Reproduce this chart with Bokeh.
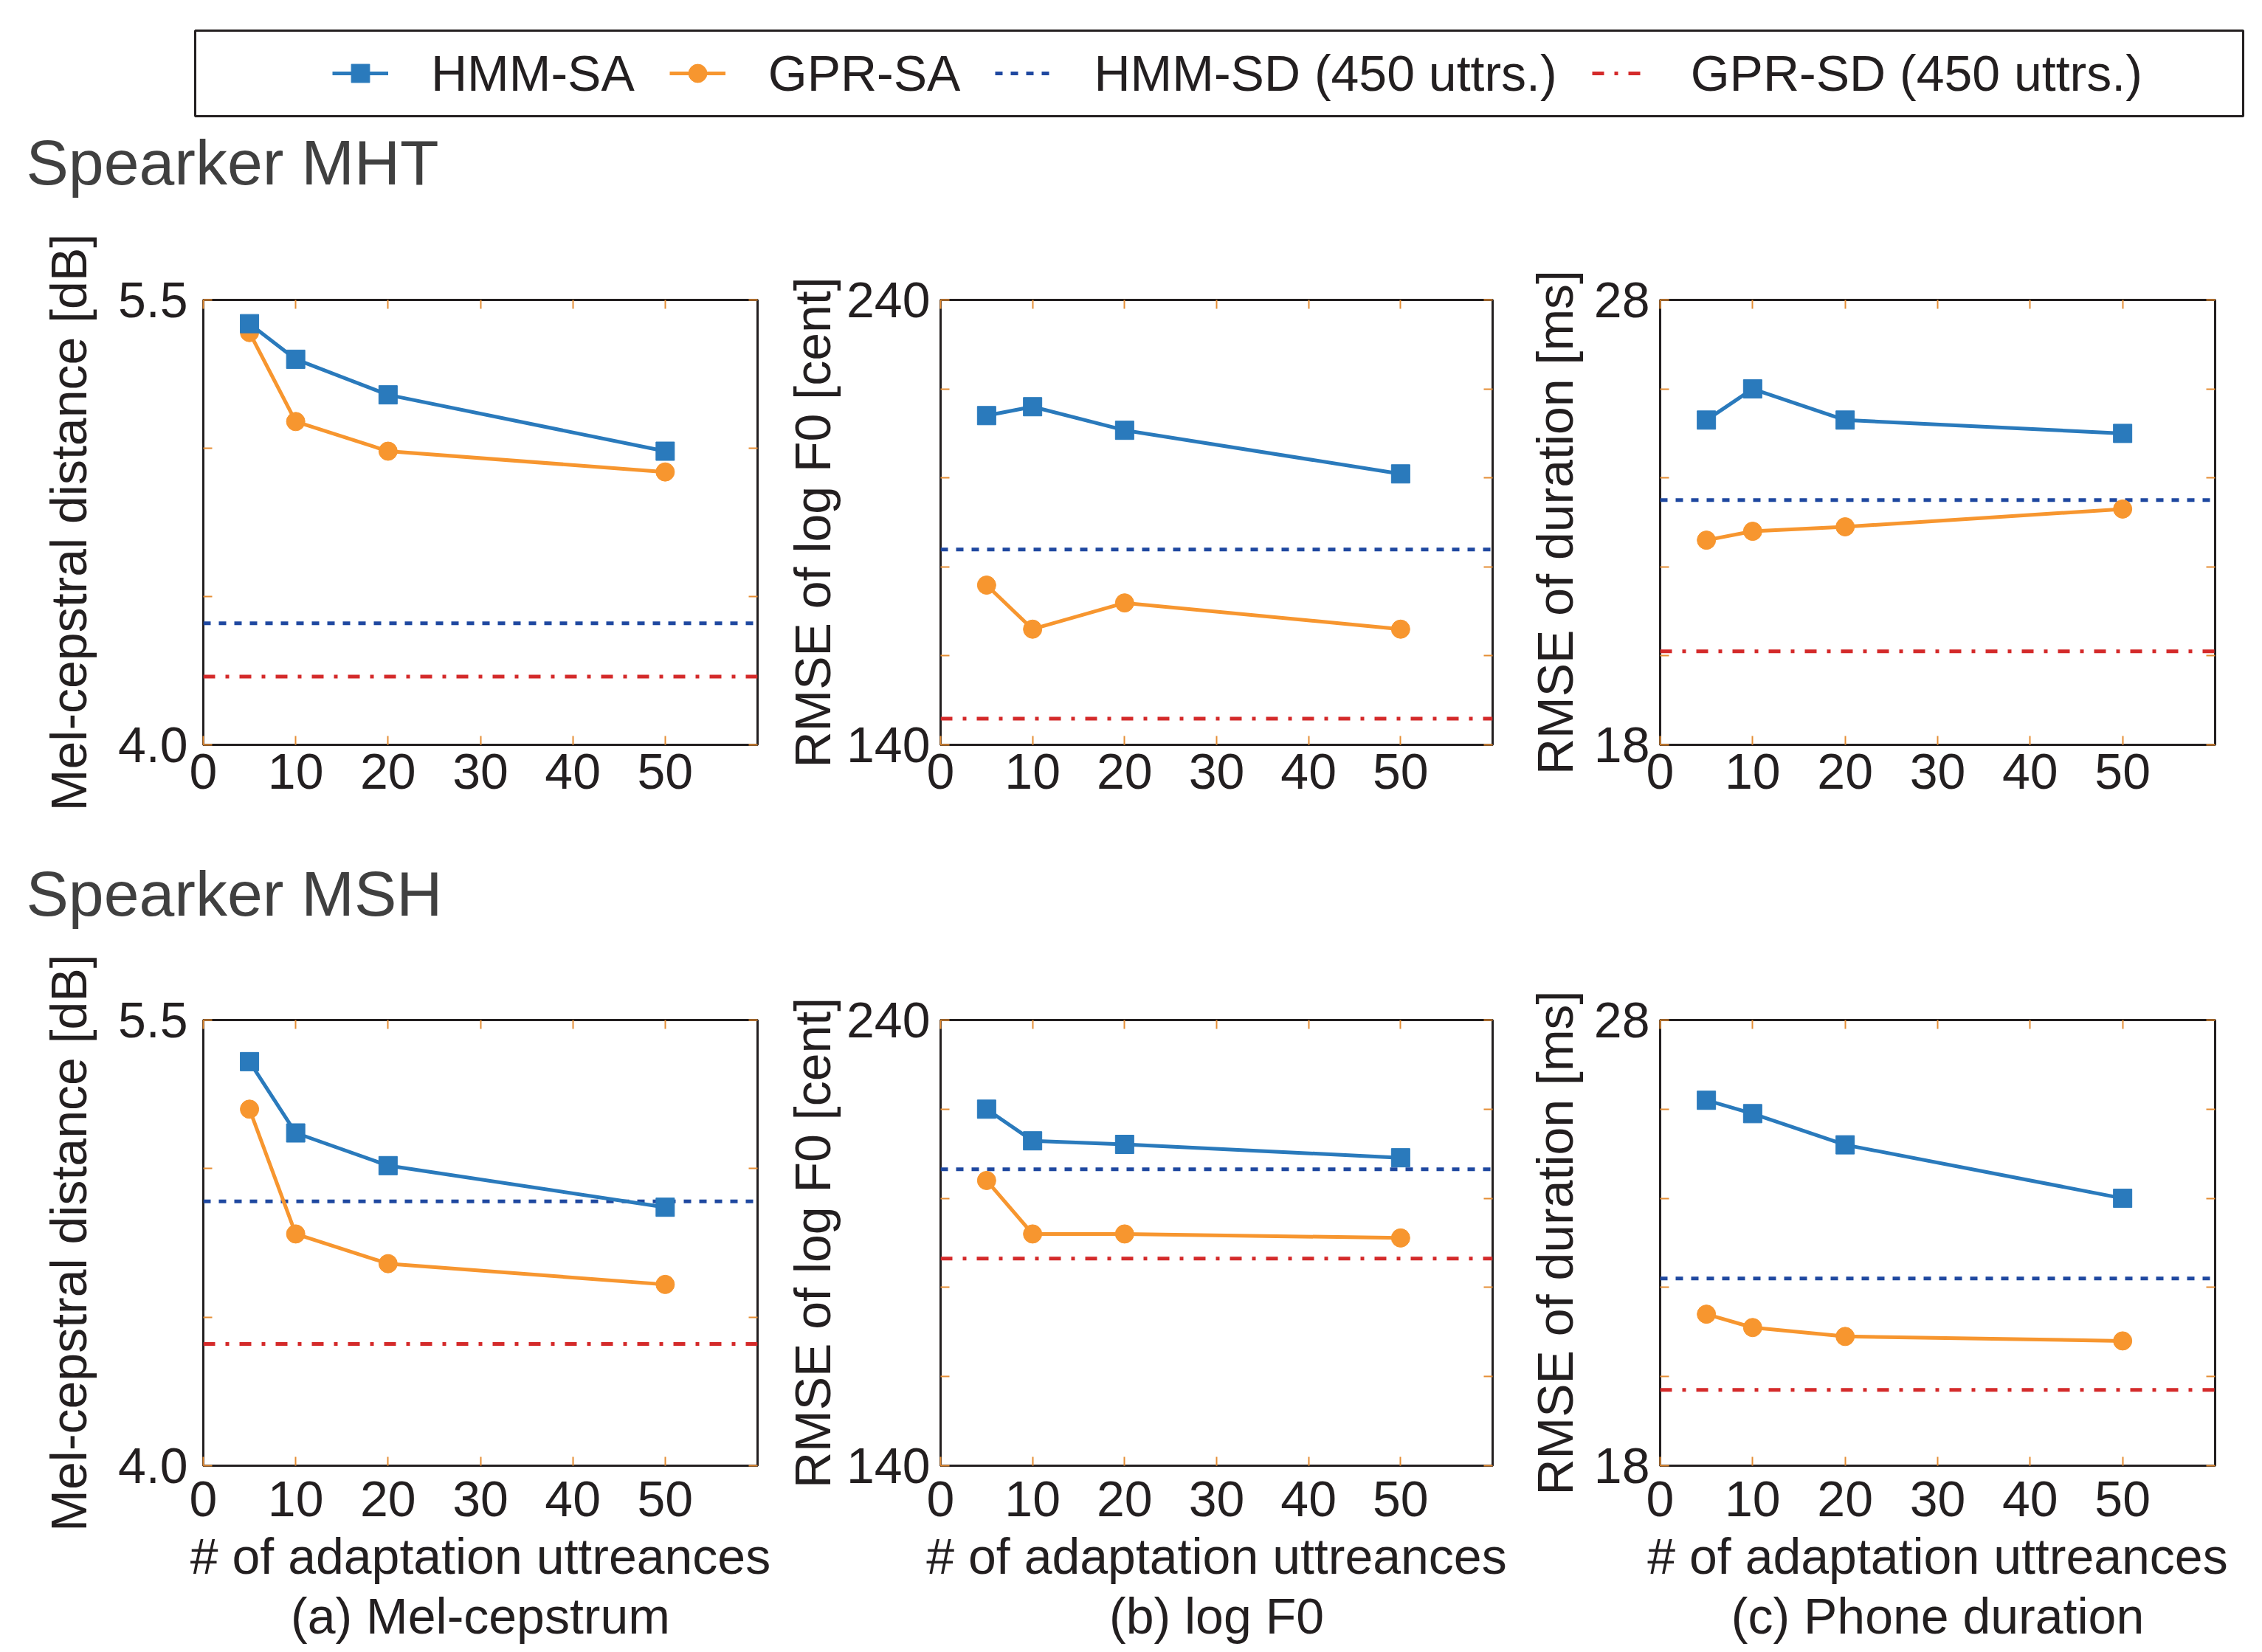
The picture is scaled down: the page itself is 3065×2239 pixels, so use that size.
from bokeh.plotting import figure
from bokeh.models import (Range1d, FixedTicker, LinearAxis, Span, Legend, LegendItem,
                          Title, PrintfTickFormatter)
from bokeh.layouts import column, row
from bokeh.embed import file_html
from bokeh.resources import INLINE

# ---------------- data ----------------
x_utts = [5, 10, 20, 50]
x_ticks = [0, 10, 20, 30, 40, 50]

series_names = ["HMM-SA", "GPR-SA", "HMM-SD (450 uttrs.)", "GPR-SD (450 uttrs.)"]
speakers = ["Spearker MHT", "Spearker MSH"]
panel_titles = ["(a) Mel-cepstrum", "(b) log F0", "(c) Phone duration"]
y_labels = ["Mel-cepstral distance [dB]", "RMSE of log F0 [cent]", "RMSE of duration [ms]"]
x_label = "# of adaptation uttreances"

# Speaker MHT
mht_mcep_hmm_sa = [5.42, 5.30, 5.18, 4.99]
mht_mcep_gpr_sa = [5.39, 5.09, 4.99, 4.92]
mht_mcep_hmm_sd = 4.41
mht_mcep_gpr_sd = 4.23

mht_lf0_hmm_sa = [214.0, 216.0, 210.7, 200.9]
mht_lf0_gpr_sa = [175.9, 166.0, 171.9, 166.0]
mht_lf0_hmm_sd = 183.9
mht_lf0_gpr_sd = 145.9

mht_dur_hmm_sa = [25.3, 26.0, 25.3, 25.0]
mht_dur_gpr_sa = [22.6, 22.8, 22.9, 23.3]
mht_dur_hmm_sd = 23.5
mht_dur_gpr_sd = 20.1

# Speaker MSH
msh_mcep_hmm_sa = [5.36, 5.12, 5.01, 4.87]
msh_mcep_gpr_sa = [5.20, 4.78, 4.68, 4.61]
msh_mcep_hmm_sd = 4.89
msh_mcep_gpr_sd = 4.41

msh_lf0_hmm_sa = [220.0, 212.9, 212.1, 209.1]
msh_lf0_gpr_sa = [204.0, 192.0, 192.0, 191.1]
msh_lf0_hmm_sd = 206.5
msh_lf0_gpr_sd = 186.5

msh_dur_hmm_sa = [26.2, 25.9, 25.2, 24.0]
msh_dur_gpr_sa = [21.4, 21.1, 20.9, 20.8]
msh_dur_hmm_sd = 22.2
msh_dur_gpr_sd = 19.7

# y axes: labelled ticks and unlabelled ticks
mcep_ticks = [4.0, 5.5]
mcep_minor = [4.5, 5.0]
lf0_ticks = [140, 240]
lf0_minor = [160, 180, 200, 220]
dur_ticks = [18, 28]
dur_minor = [20, 22, 24, 26]

# ---------------- style ----------------
FONT = "Liberation Sans"
TXT = "#231f20"
BLUE = "#2a7abc"
ORANGE = "#f7962f"
DBLUE = "#1f48a0"
RED = "#d42a2a"
TICK = "#e58e35"
FS = "68px"


def style_axis(ax, ticks, minor, fmt, show, standoff=10):
    ax.ticker = FixedTicker(ticks=ticks, minor_ticks=minor)
    ax.formatter = PrintfTickFormatter(format=fmt)
    ax.axis_line_color = None
    ax.major_tick_in = 12
    ax.major_tick_out = 0
    ax.minor_tick_in = 12
    ax.minor_tick_out = 0
    ax.major_tick_line_color = TICK
    ax.minor_tick_line_color = TICK
    ax.major_tick_line_width = 2
    ax.minor_tick_line_width = 2
    ax.major_label_text_font = FONT
    ax.major_label_text_color = TXT
    ax.major_label_standoff = standoff
    if show:
        ax.major_label_text_font_size = FS
    else:
        ax.major_label_text_font_size = "0px"
        ax.major_label_text_alpha = 0


def panel(hmm_sa, gpr_sa, hmm_sd, gpr_sd, ylo, yhi, yt, ym, yfmt, ylab, ylab_standoff,
          ytick_standoff, width, left, right, height, top, bottom, xtick_standoff,
          title=None, speaker=None, speaker_gap=0):
    p = figure(width=width, height=height, x_range=Range1d(0, 60), y_range=Range1d(ylo, yhi),
               output_backend="svg", toolbar_location=None,
               x_axis_location=None, y_axis_location=None,
               min_border_left=left, min_border_right=right,
               min_border_top=top, min_border_bottom=bottom,
               outline_line_color=TXT, outline_line_width=3)
    p.grid.visible = False
    # axes first (they sit next to the frame), titles afterwards (outside them)
    xb = LinearAxis()
    style_axis(xb, x_ticks, [], "%d", True, standoff=xtick_standoff)
    if title is not None:
        xb.axis_label = x_label
        xb.axis_label_text_font = FONT
        xb.axis_label_text_font_size = FS
        xb.axis_label_text_font_style = "normal"
        xb.axis_label_text_color = TXT
        xb.axis_label_standoff = 13
    p.add_layout(xb, "below")
    xt = LinearAxis()
    style_axis(xt, x_ticks, [], "%d", False, standoff=0)
    p.add_layout(xt, "above")
    yl = LinearAxis()
    style_axis(yl, yt, ym, yfmt, True, standoff=ytick_standoff)
    yl.axis_label = ylab
    yl.axis_label_text_font = FONT
    yl.axis_label_text_font_size = FS
    yl.axis_label_text_font_style = "normal"
    yl.axis_label_text_color = TXT
    yl.axis_label_standoff = ylab_standoff
    p.add_layout(yl, "left")
    yr = LinearAxis()
    style_axis(yr, yt, ym, yfmt, False, standoff=0)
    p.add_layout(yr, "right")

    if title is not None:
        p.add_layout(Title(text=title, align="center", text_font=FONT, text_font_size=FS,
                           text_font_style="normal", text_color=TXT, standoff=0), "below")
    if speaker is not None:
        # blank spacer between the frame and the speaker heading
        p.add_layout(Title(text=" ", text_font_size="1px", standoff=speaker_gap), "above")
        p.add_layout(Title(text=speaker, align="left", offset=-240, text_font=FONT,
                           text_font_size="86px", text_font_style="normal",
                           text_color="#404040", standoff=0), "above")

    p.add_layout(Span(location=hmm_sd, dimension="width", line_color=DBLUE, line_width=5,
                      line_dash="10 11", level="underlay"))
    p.add_layout(Span(location=gpr_sd, dimension="width", line_color=RED, line_width=5,
                      line_dash="16 14 5 14", level="underlay"))
    p.line(x_utts, gpr_sa, line_color=ORANGE, line_width=5)
    p.scatter(x_utts, gpr_sa, marker="circle", size=25, color=ORANGE)
    p.line(x_utts, hmm_sa, line_color=BLUE, line_width=5)
    p.scatter(x_utts, hmm_sa, marker="square", size=25, color=BLUE)
    return p


# ---------------- legend strip ----------------
leg = figure(width=3057, height=165, x_range=Range1d(0, 60), y_range=Range1d(4.0, 5.5),
             output_backend="svg", toolbar_location=None,
             x_axis_location=None, y_axis_location=None,
             min_border_left=264, min_border_right=18, min_border_top=41, min_border_bottom=8,
             outline_line_color=TXT, outline_line_width=3)
leg.grid.visible = False
# legend proxies (hidden; they only supply the legend glyph styles)
r1l = leg.line(x_utts, mht_mcep_hmm_sa, line_color=BLUE, line_width=5, visible=False)
r1s = leg.scatter(x_utts, mht_mcep_hmm_sa, marker="square", size=25, color=BLUE, visible=False)
r2l = leg.line(x_utts, mht_mcep_gpr_sa, line_color=ORANGE, line_width=5, visible=False)
r2s = leg.scatter(x_utts, mht_mcep_gpr_sa, marker="circle", size=25, color=ORANGE, visible=False)
r3 = leg.line(x_utts, [mht_mcep_hmm_sd] * len(x_utts), line_color=DBLUE, line_width=5,
              line_dash="10 11", visible=False)
r4 = leg.line(x_utts, [mht_mcep_gpr_sd] * len(x_utts), line_color=RED, line_width=5,
              line_dash="16 14 5 14", visible=False)
legend = Legend(items=[LegendItem(label=series_names[0], renderers=[r1l, r1s]),
                       LegendItem(label=series_names[1], renderers=[r2l, r2s]),
                       LegendItem(label=series_names[2], renderers=[r3]),
                       LegendItem(label=series_names[3], renderers=[r4])],
                orientation="horizontal", location=(186, 19),
                border_line_color=None, background_fill_alpha=0,
                padding=0, margin=0, spacing=47, label_standoff=58,
                glyph_width=76, glyph_height=62, label_height=62,
                label_text_font=FONT, label_text_font_size=FS, label_text_color=TXT)
leg.add_layout(legend)

cols = [dict(width=1060, left=275, right=34, ls=26, ts=21),
        dict(width=998, left=211, right=36, ls=5, ts=14),
        dict(width=999, left=191, right=56, ls=12, ts=14)]
yspec = [(4.0, 5.5, mcep_ticks, mcep_minor, "%.1f"),
         (140, 240, lf0_ticks, lf0_minor, "%d"),
         (18, 28, dur_ticks, dur_minor, "%d")]
mht = [(mht_mcep_hmm_sa, mht_mcep_gpr_sa, mht_mcep_hmm_sd, mht_mcep_gpr_sd),
       (mht_lf0_hmm_sa, mht_lf0_gpr_sa, mht_lf0_hmm_sd, mht_lf0_gpr_sd),
       (mht_dur_hmm_sa, mht_dur_gpr_sa, mht_dur_hmm_sd, mht_dur_gpr_sd)]
msh = [(msh_mcep_hmm_sa, msh_mcep_gpr_sa, msh_mcep_hmm_sd, msh_mcep_gpr_sd),
       (msh_lf0_hmm_sa, msh_lf0_gpr_sa, msh_lf0_hmm_sd, msh_lf0_gpr_sd),
       (msh_dur_hmm_sa, msh_dur_gpr_sa, msh_dur_hmm_sd, msh_dur_gpr_sd)]

row1 = []
row2 = []
for i in range(3):
    c = cols[i]
    ylo, yhi, yt, ym, fmt = yspec[i]
    row1.append(panel(*mht[i], ylo, yhi, yt, ym, fmt, y_labels[i], c["ls"], c["ts"],
                      c["width"], c["left"], c["right"], 935, 241, 91, 12,
                      speaker=speakers[0] if i == 0 else None, speaker_gap=136))
    row2.append(panel(*msh[i], ylo, yhi, yt, ym, fmt, y_labels[i], c["ls"], c["ts"],
                      c["width"], c["left"], c["right"], 1136, 282, 250, 21,
                      title=panel_titles[i],
                      speaker=speakers[1] if i == 0 else None, speaker_gap=121))

layout = column(leg, row(*row1), row(*row2))

open("out.html", "w").write(file_html(layout, INLINE))
